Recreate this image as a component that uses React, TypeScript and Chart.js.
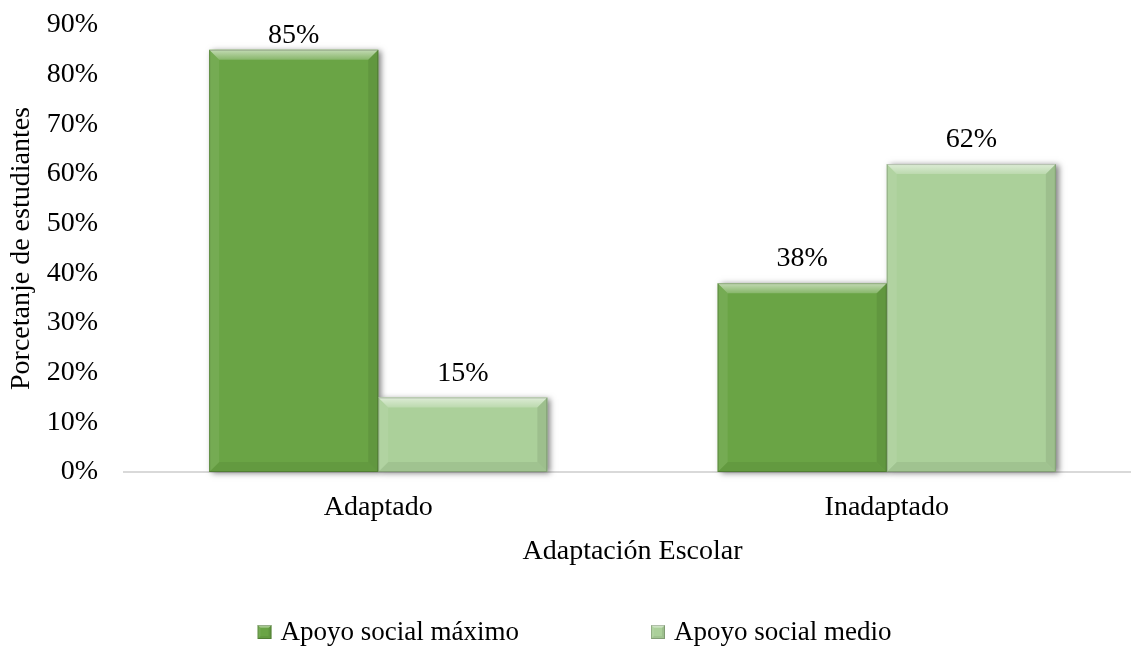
import React, { useEffect, useRef } from "react";
import { Chart, registerables } from "chart.js";

Chart.register(...registerables);

const categories = ["Adaptado", "Inadaptado"];
const seriesNames = ["Apoyo social máximo", "Apoyo social medio"];
const maximoValues = [85, 38];
const medioValues = [15, 62];
const yTicks = [0, 10, 20, 30, 40, 50, 60, 70, 80, 90];
const xTitle = "Adaptación Escolar";
const yTitle = "Porcetanje de estudiantes";

const COLORS = ["#6aa445", "#abd09a"];
const FONT = "'Liberation Serif', 'Times New Roman', serif";
const FS = 28;
const VIEW_W = 1131;

function bevel(ctx: CanvasRenderingContext2D, l: number, t: number, r: number, b: number, s: number) {
  const w = r - l;
  const h = b - t;
  const k = Math.min(s, w / 2, h / 2);
  const g = ctx.createLinearGradient(0, t, 0, t + k);
  g.addColorStop(0, "rgba(255,255,255,0.6)");
  g.addColorStop(1, "rgba(255,255,255,0.2)");
  ctx.fillStyle = g;
  ctx.beginPath();
  ctx.moveTo(l, t); ctx.lineTo(r, t); ctx.lineTo(r - k, t + k); ctx.lineTo(l + k, t + k); ctx.closePath();
  ctx.fill();
  ctx.fillStyle = "rgba(255,255,255,0.08)";
  ctx.beginPath();
  ctx.moveTo(l, t); ctx.lineTo(l + k, t + k); ctx.lineTo(l + k, b - k); ctx.lineTo(l, b); ctx.closePath();
  ctx.fill();
  ctx.fillStyle = "rgba(0,0,0,0.08)";
  ctx.beginPath();
  ctx.moveTo(r, t); ctx.lineTo(r, b); ctx.lineTo(r - k, b - k); ctx.lineTo(r - k, t + k); ctx.closePath();
  ctx.fill();
  ctx.fillStyle = "rgba(0,0,0,0.06)";
  ctx.beginPath();
  ctx.moveTo(l, b); ctx.lineTo(r, b); ctx.lineTo(r - k, b - k); ctx.lineTo(l + k, b - k); ctx.closePath();
  ctx.fill();
  ctx.strokeStyle = "rgba(0,0,0,0.18)";
  ctx.lineWidth = 1;
  ctx.strokeRect(l + 0.5, t + 0.5, w - 1, h - 1);
}

const barStylePlugin = {
  id: "barStyle",
  beforeDatasetsDraw(chart: any) {
    const ctx = chart.ctx as CanvasRenderingContext2D;
    chart.data.datasets.forEach((ds: any, i: number) => {
      const meta = chart.getDatasetMeta(i);
      meta.data.forEach((el: any) => {
        const { x, y, base, width } = el.getProps(["x", "y", "base", "width"], true);
        ctx.save();
        ctx.shadowColor = "rgba(0,0,0,0.5)";
        ctx.shadowBlur = 6;
        ctx.shadowOffsetX = 3;
        ctx.shadowOffsetY = 1;
        ctx.fillStyle = ds.backgroundColor;
        ctx.fillRect(x - width / 2, y, width, base - y);
        ctx.restore();
      });
    });
  },
  afterDatasetsDraw(chart: any) {
    const ctx = chart.ctx as CanvasRenderingContext2D;
    const minBaseline = chart.chartArea.top + 18;
    chart.data.datasets.forEach((ds: any, i: number) => {
      const meta = chart.getDatasetMeta(i);
      meta.data.forEach((el: any, j: number) => {
        const { x, y, base, width } = el.getProps(["x", "y", "base", "width"], true);
        ctx.save();
        bevel(ctx, x - width / 2, y, x + width / 2, base, 10);
        ctx.fillStyle = "#000";
        ctx.font = `${FS}px ${FONT}`;
        ctx.textAlign = "center";
        ctx.textBaseline = "alphabetic";
        ctx.fillText(`${ds.data[j]}%`, x, Math.max(y - 17, minBaseline));
        ctx.restore();
      });
    });
  },
  afterDraw(chart: any) {
    const ctx = chart.ctx as CanvasRenderingContext2D;
    ctx.save();
    ctx.font = `27px ${FONT}`;
    const box = 14;
    const gapBox = 9;
    const spacing = 132;
    const items = chart.data.datasets.map((ds: any) => ({
      label: ds.label,
      color: ds.backgroundColor,
      w: box + gapBox + ctx.measureText(ds.label).width,
    }));
    const total = items.reduce((s: number, it: any) => s + it.w, 0) + spacing * (items.length - 1);
    let xPos = VIEW_W / 2 - total / 2 + 9;
    const yc = chart.height - 21;
    items.forEach((it: any) => {
      ctx.fillStyle = it.color;
      ctx.fillRect(xPos, yc - box / 2, box, box);
      bevel(ctx, xPos, yc - box / 2, xPos + box, yc + box / 2, 3);
      ctx.fillStyle = "#000";
      ctx.textAlign = "left";
      ctx.textBaseline = "middle";
      ctx.fillText(it.label, xPos + box + gapBox, yc + 1);
      xPos += it.w + spacing;
    });
    ctx.restore();
  },
};

export default function App() {
  const canvasRef = useRef<HTMLCanvasElement | null>(null);
  useEffect(() => {
    if (!canvasRef.current) return;
    const chart = new Chart(canvasRef.current, {
      type: "bar",
      data: {
        labels: categories,
        datasets: [
          { label: seriesNames[0], data: maximoValues, backgroundColor: COLORS[0], borderWidth: 0 },
          { label: seriesNames[1], data: medioValues, backgroundColor: COLORS[1], borderWidth: 0 },
        ],
      },
      options: {
        animation: false,
        responsive: true,
        maintainAspectRatio: false,
        layout: { padding: { top: 25, left: 0, right: 0, bottom: 87 } },
        plugins: {
          legend: { display: false },
          tooltip: { enabled: false },
        },
        datasets: { bar: { categoryPercentage: 0.665, barPercentage: 1 } },
        scales: {
          x: {
            afterFit: (axis: any) => {
              axis.height = 94;
            },
            grid: { display: false, drawTicks: false },
            border: { display: true, color: "#d9d9d9", width: 2 },
            ticks: { color: "#000", font: { family: FONT, size: FS }, padding: 19 },
            title: {
              display: true,
              text: xTitle,
              color: "#000",
              font: { family: FONT, size: FS },
              padding: { top: 5, bottom: -2 },
            },
          },
          y: {
            min: 0,
            max: 90,
            afterFit: (axis: any) => {
              axis.width = 124;
              axis.paddingTop = 0;
              axis.paddingBottom = 0;
            },
            afterBuildTicks: (axis: any) => {
              axis.ticks = yTicks.map((v) => ({ value: v }));
            },
            grid: { display: false, drawTicks: false },
            border: { display: false },
            ticks: {
              color: "#000",
              font: { family: FONT, size: FS },
              padding: 26,
              callback: (v: any) => `${v}%`,
            },
            title: {
              display: true,
              text: yTitle,
              color: "#000",
              font: { family: FONT, size: FS },
              padding: { top: 5, bottom: 10 },
            },
          },
        },
      },
      plugins: [barStylePlugin],
    });
    return () => chart.destroy();
  }, []);
  return (
    <div style={{ position: "absolute", left: 0, top: 0, width: VIEW_W, height: 653, background: "#fff", overflow: "hidden" }}>
      <div style={{ position: "relative", width: 1141, height: 653 }}>
        <canvas ref={canvasRef} />
      </div>
    </div>
  );
}
